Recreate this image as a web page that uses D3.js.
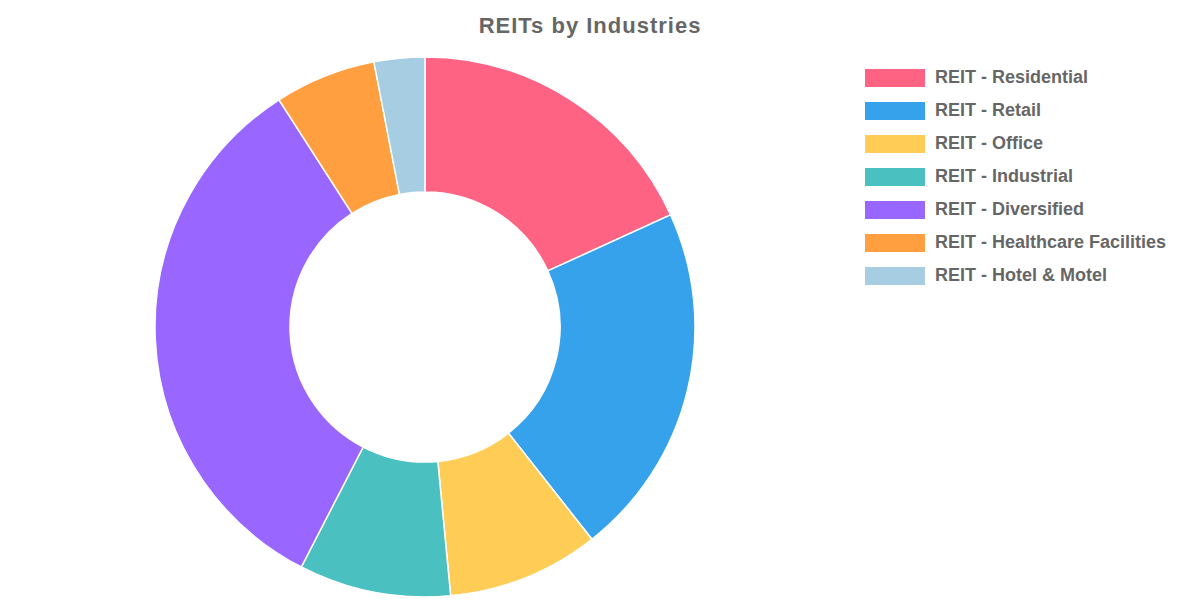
<!DOCTYPE html>
<html>
<head>
<meta charset="utf-8">
<script src="https://cdn.jsdelivr.net/npm/d3@7"></script>
<style>
  body { margin: 0; background: #fff; }
  text { font-family: "Liberation Sans", Arial, sans-serif; }
</style>
</head>
<body>
<div id="chart"></div>
<script>
// data
var categories = ['REIT - Residential', 'REIT - Retail', 'REIT - Office', 'REIT - Industrial',
    'REIT - Diversified', 'REIT - Healthcare Facilities', 'REIT - Hotel & Motel'];
var counts = [6, 7, 3, 3, 11, 2, 1];
var colors = ['#ff6384', '#36a2eb', '#ffcd56', '#4bc0c0', '#9966ff', '#ff9f40', '#a6cde2'];

var svgWidth = 1180, svgHeight = 600;
var cx = 425, cy = 327, outerR = 270, innerR = 135;

var svg = d3.select('#chart').append('svg')
    .attr('width', svgWidth).attr('height', svgHeight);

// title
svg.append('text')
    .attr('x', 590).attr('y', 33)
    .attr('text-anchor', 'middle')
    .style('font-size', '22px').style('font-weight', 'bold')
    .style('letter-spacing', '1px')
    .style('fill', '#666')
    .text('REITs by Industries');

var data = categories.map(function(c, i) { return {name: c, value: counts[i], color: colors[i]}; });

var pie = d3.pie().sort(null).value(function(d) { return d.value; });
var arc = d3.arc().innerRadius(innerR).outerRadius(outerR);

var g = svg.append('g').attr('transform', 'translate(' + cx + ',' + cy + ')');
g.selectAll('path')
    .data(pie(data))
    .enter().append('path')
    .attr('d', arc)
    .attr('fill', function(d) { return d.data.color; })
    .attr('stroke', '#fff')
    .attr('stroke-width', 1.5);

// legend
var legend = svg.append('g').attr('transform', 'translate(865,69)');
var item = legend.selectAll('g')
    .data(data)
    .enter().append('g')
    .attr('transform', function(d, i) { return 'translate(0,' + (i * 33) + ')'; });

item.append('rect')
    .attr('width', 60).attr('height', 18)
    .attr('fill', function(d) { return d.color; });

item.append('text')
    .attr('x', 70).attr('y', 14)
    .style('font-size', '18px').style('font-weight', 'bold')
    .style('fill', '#666')
    .text(function(d) { return d.name; });
</script>
</body>
</html>
